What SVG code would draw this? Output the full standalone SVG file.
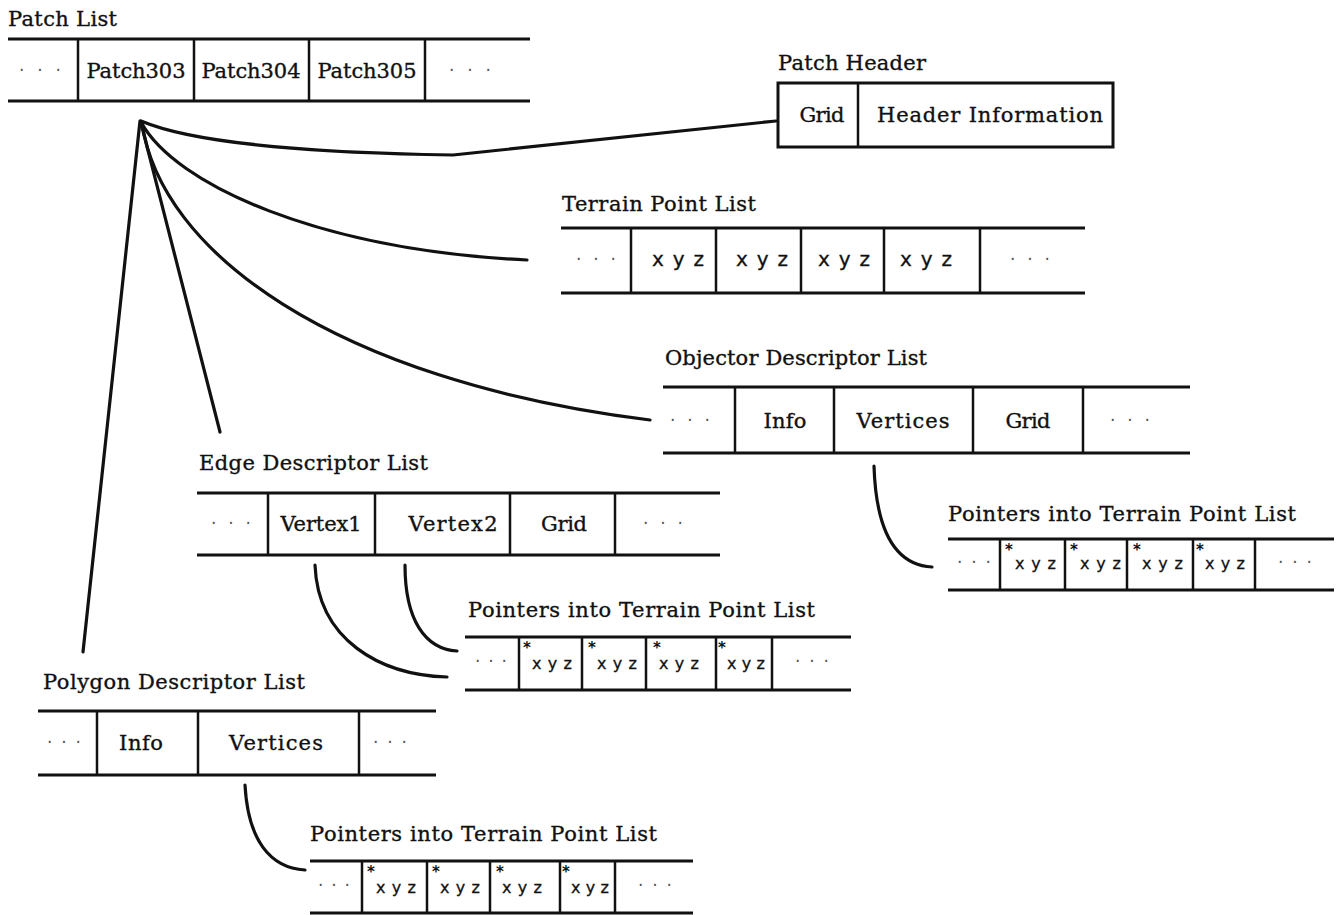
<svg xmlns="http://www.w3.org/2000/svg" width="1340" height="915" viewBox="0 0 1340 915">
  <style>
    .rule { stroke: #111; stroke-width: 3; fill: none; }
    .div { stroke: #111; stroke-width: 2.5; fill: none; }
    .box { stroke: #111; stroke-width: 3; fill: none; }
    .lbl { font-family: "DejaVu Serif", "Liberation Serif", serif; font-size: 21px; fill: #111; stroke: #111; stroke-width: 0.35; }
    .cell { font-family: "DejaVu Serif", "Liberation Serif", serif; font-size: 21px; fill: #111; stroke: #111; stroke-width: 0.35; text-anchor: middle; }
    .dots { font-family: "DejaVu Sans", sans-serif; font-size: 17px; fill: #555; text-anchor: middle; }
    .xyz { font-family: "DejaVu Sans", "Liberation Sans", sans-serif; font-size: 20px; fill: #111; stroke: #111; stroke-width: 0.3; text-anchor: middle; }
    .sxyz { font-family: "DejaVu Sans", "Liberation Sans", sans-serif; font-size: 16px; fill: #111; stroke: #111; stroke-width: 0.3; }
    .star { font-family: "DejaVu Sans", sans-serif; font-size: 15px; font-weight: bold; fill: #111; }
    .link { stroke: #111; stroke-width: 3.2; fill: none; stroke-linecap: round; stroke-linejoin: round; }
  </style>

  <!-- connectors -->
  <g id="connectors">
    <path class="link" d="M141,121 C200,146 330,153 453,155 L776,121"/>
    <path class="link" d="M141,122 C175,185 320,250 527,260"/>
    <path class="link" d="M142,123 C160,250 330,380 650,420"/>
    <path class="link" d="M141,123 L220,432"/>
    <path class="link" d="M140,121 L83,652"/>
    <path class="link" d="M874,466 C876,530 895,565 932,567"/>
    <path class="link" d="M315,565 C318,640 380,675 447,677"/>
    <path class="link" d="M405,565 C405,620 425,649 457,651"/>
    <path class="link" d="M245,785 C248,840 270,868 305,870"/>
  </g>

  <!-- Patch List -->
  <g id="patch-list">
    <text class="lbl" x="8" y="26" textLength="109">Patch List</text>
    <path class="rule" d="M8,39 H530 M8,101 H530"/>
    <path class="div" d="M78,39 V101 M194,39 V101 M309,39 V101 M425,39 V101"/>
    <text class="dots" x="40" y="76" textLength="42">· · ·</text>
    <text class="cell" x="136" y="78" textLength="99">Patch303</text>
    <text class="cell" x="251" y="78" textLength="99">Patch304</text>
    <text class="cell" x="367" y="78" textLength="99">Patch305</text>
    <text class="dots" x="470" y="76" textLength="42">· · ·</text>
  </g>

  <!-- Patch Header -->
  <g id="patch-header">
    <text class="lbl" x="778" y="70" textLength="148">Patch Header</text>
    <rect class="box" x="778" y="83" width="335" height="64"/>
    <path class="div" d="M858,83 V147"/>
    <text class="cell" x="822" y="122" textLength="45">Grid</text>
    <text class="cell" x="990" y="122" textLength="226">Header Information</text>
  </g>

  <!-- Terrain Point List -->
  <g id="terrain-point-list">
    <text class="lbl" x="562" y="211" textLength="194">Terrain Point List</text>
    <path class="rule" d="M561,228 H1085 M561,293 H1085"/>
    <path class="div" d="M631,228 V293 M716,228 V293 M801,228 V293 M884,228 V293 M980,228 V293"/>
    <text class="dots" x="596" y="265" textLength="40">· · ·</text>
    <text class="xyz" x="678" y="266" textLength="52">x y z</text>
    <text class="xyz" x="762" y="266" textLength="52">x y z</text>
    <text class="xyz" x="844" y="266" textLength="52">x y z</text>
    <text class="xyz" x="926" y="266" textLength="52">x y z</text>
    <text class="dots" x="1030" y="265" textLength="40">· · ·</text>
  </g>

  <!-- Objector Descriptor List -->
  <g id="objector-descriptor-list">
    <text class="lbl" x="665" y="365" textLength="262">Objector Descriptor List</text>
    <path class="rule" d="M663,387 H1190 M663,453 H1190"/>
    <path class="div" d="M735,387 V453 M834,387 V453 M973,387 V453 M1083,387 V453"/>
    <text class="dots" x="690" y="426" textLength="40">· · ·</text>
    <text class="cell" x="785" y="428" textLength="43">Info</text>
    <text class="cell" x="903" y="428" textLength="93">Vertices</text>
    <text class="cell" x="1028" y="428" textLength="45">Grid</text>
    <text class="dots" x="1130" y="426" textLength="40">· · ·</text>
  </g>

  <!-- Pointers into Terrain Point List (object vertices) -->
  <g id="object-pointers">
    <text class="lbl" x="948" y="521" textLength="348">Pointers into Terrain Point List</text>
    <path class="rule" d="M948,539 H1334 M948,590 H1334"/>
    <path class="div" d="M1000,539 V590 M1065,539 V590 M1127,539 V590 M1193,539 V590 M1255,539 V590"/>
    <text class="dots" x="974" y="568" textLength="34">· · ·</text>
    <text class="star" x="1005" y="555">*</text>
    <text class="sxyz" x="1015" y="569" textLength="41">x y z</text>
    <text class="star" x="1070" y="555">*</text>
    <text class="sxyz" x="1080" y="569" textLength="41">x y z</text>
    <text class="star" x="1133" y="555">*</text>
    <text class="sxyz" x="1142" y="569" textLength="41">x y z</text>
    <text class="star" x="1196" y="555">*</text>
    <text class="sxyz" x="1205" y="569" textLength="40">x y z</text>
    <text class="dots" x="1295" y="568" textLength="34">· · ·</text>
  </g>

  <!-- Edge Descriptor List -->
  <g id="edge-descriptor-list">
    <text class="lbl" x="199" y="470" textLength="229">Edge Descriptor List</text>
    <path class="rule" d="M197,493 H720 M197,555 H720"/>
    <path class="div" d="M268,493 V555 M375,493 V555 M510,493 V555 M615,493 V555"/>
    <text class="dots" x="231" y="529" textLength="40">· · ·</text>
    <text class="cell" x="321" y="531" textLength="81">Vertex1</text>
    <text class="cell" x="453" y="531" textLength="89">Vertex2</text>
    <text class="cell" x="564" y="531" textLength="46">Grid</text>
    <text class="dots" x="663" y="529" textLength="40">· · ·</text>
  </g>

  <!-- Pointers into Terrain Point List (edge vertices) -->
  <g id="edge-pointers">
    <text class="lbl" x="468" y="617" textLength="347">Pointers into Terrain Point List</text>
    <path class="rule" d="M465,637 H851 M465,690 H851"/>
    <path class="div" d="M519,637 V690 M582,637 V690 M646,637 V690 M716,637 V690 M772,637 V690"/>
    <text class="dots" x="491" y="667" textLength="32">· · ·</text>
    <text class="star" x="523" y="653">*</text>
    <text class="sxyz" x="532" y="669" textLength="40">x y z</text>
    <text class="star" x="588" y="653">*</text>
    <text class="sxyz" x="597" y="669" textLength="40">x y z</text>
    <text class="star" x="653" y="653">*</text>
    <text class="sxyz" x="659" y="669" textLength="40">x y z</text>
    <text class="star" x="718" y="653">*</text>
    <text class="sxyz" x="727" y="669" textLength="38">x y z</text>
    <text class="dots" x="812" y="667" textLength="34">· · ·</text>
  </g>

  <!-- Polygon Descriptor List -->
  <g id="polygon-descriptor-list">
    <text class="lbl" x="43" y="689" textLength="262">Polygon Descriptor List</text>
    <path class="rule" d="M38,711 H436 M38,775 H436"/>
    <path class="div" d="M97,711 V775 M198,711 V775 M359,711 V775"/>
    <text class="dots" x="64" y="748" textLength="34">· · ·</text>
    <text class="cell" x="141" y="750" textLength="44">Info</text>
    <text class="cell" x="276" y="750" textLength="94">Vertices</text>
    <text class="dots" x="390" y="748" textLength="34">· · ·</text>
  </g>

  <!-- Pointers into Terrain Point List (polygon vertices) -->
  <g id="polygon-pointers">
    <text class="lbl" x="310" y="841" textLength="347">Pointers into Terrain Point List</text>
    <path class="rule" d="M310,861 H693 M310,913 H693"/>
    <path class="div" d="M362,861 V913 M427,861 V913 M490,861 V913 M560,861 V913 M615,861 V913"/>
    <text class="dots" x="334" y="891" textLength="32">· · ·</text>
    <text class="star" x="367" y="877">*</text>
    <text class="sxyz" x="376" y="893" textLength="40">x y z</text>
    <text class="star" x="432" y="877">*</text>
    <text class="sxyz" x="440" y="893" textLength="40">x y z</text>
    <text class="star" x="496" y="877">*</text>
    <text class="sxyz" x="502" y="893" textLength="40">x y z</text>
    <text class="star" x="562" y="877">*</text>
    <text class="sxyz" x="571" y="893" textLength="38">x y z</text>
    <text class="dots" x="655" y="891" textLength="34">· · ·</text>
  </g>
</svg>
